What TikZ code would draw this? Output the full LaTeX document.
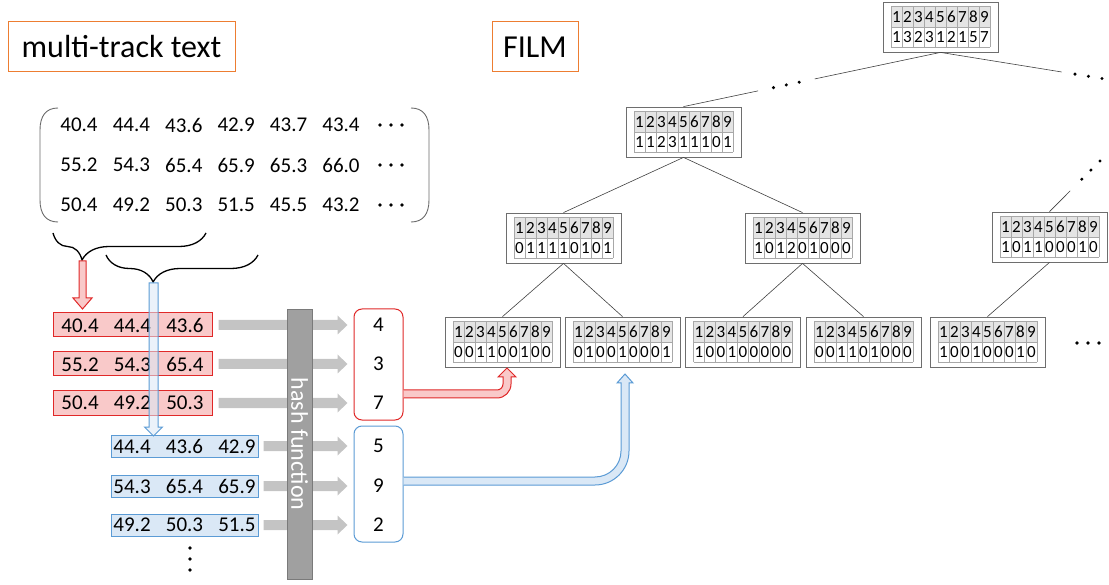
\documentclass[tikz,border=0pt]{standalone}
\usepackage{fontspec}
\setmainfont{Carlito}
\usetikzlibrary{calc,decorations.pathreplacing}
\definecolor{orangeb}{HTML}{ED7D31}
\definecolor{redl}{HTML}{E02828}
\definecolor{redf}{HTML}{F9C9C9}
\definecolor{bluel}{HTML}{5B9BD5}
\definecolor{bluef}{HTML}{DAE8F6}
\definecolor{garr}{HTML}{C4C4C4}
\definecolor{hashf}{HTML}{A0A0A0}
\definecolor{hashl}{HTML}{7A7A7A}
\definecolor{boxl}{HTML}{6E6E6E}
\definecolor{celll}{HTML}{A8A8A8}
\definecolor{cellf}{HTML}{E4E4E4}
\definecolor{treel}{HTML}{404040}
\definecolor{brk}{HTML}{6A6A6A}
\tikzset{
  title/.style={draw=orangeb, line width=1pt, inner sep=0pt, minimum height=50pt, font=\fontsize{32}{32}\selectfont},
  mnum/.style={inner sep=0pt, font=\fontsize{21}{21}\selectfont},
  redrow/.style={draw=redl, fill=redf, line width=1pt, minimum width=159pt, minimum height=24pt, inner sep=0pt, font=\fontsize{21}{21}\selectfont},
  bluerow/.style={draw=bluel, fill=bluef, line width=1pt, minimum width=147pt, minimum height=22pt, inner sep=0pt, font=\fontsize{21}{21}\selectfont},
  hashbar/.style={draw=hashl, fill=hashf, line width=0.8pt, minimum width=25pt, minimum height=270pt, inner sep=0pt},
  hashtext/.style={rotate=-90, text=white, inner sep=0pt, font=\fontsize{24}{24}\selectfont},
  redround/.style={draw=redl, line width=1pt, rounded corners=8pt, fill=white, minimum width=49pt, minimum height=111pt, inner sep=0pt},
  blueround/.style={draw=bluel, line width=1pt, rounded corners=8pt, fill=white, minimum width=49pt, minimum height=116pt, inner sep=0pt},
  hnum/.style={inner sep=0pt, font=\fontsize{21}{21}\selectfont},
  filmbox/.style={draw=boxl, line width=0.8pt, fill=white, minimum width=115pt, minimum height=50pt, inner sep=0pt},
  cellline/.style={draw=celll, line width=0.5pt},
  cellnum/.style={inner sep=0pt, font=\fontsize{17}{17}\selectfont},
  treeline/.style={draw=treel, line width=0.6pt},
  bracestyle/.style={draw=black, line width=1.3pt, decorate, decoration={brace, mirror, amplitude=27pt, aspect=#1}},
  redblock/.style={draw=redl, fill=redf, line width=1pt},
  blueblock/.style={draw=bluel, fill=bluef, line width=1pt},
}
\newcommand\filmtab[4]{%
  \node[filmbox] (#1) at (#2,#3) {};
  \fill[cellf] ($(#1.center)+(-49.5,-20.5)$) rectangle ($(#1.center)+(49.5,0)$);
  \foreach \kk in {0,...,9} \draw[cellline] ($(#1.center)+({-49.5+\kk*11},-20.5)$) -- ++(0,41);
  \foreach \yy in {-20.5,0,20.5} \draw[cellline] ($(#1.center)+(-49.5,\yy)$) -- ++(99,0);
  \foreach \dg [count=\ci] in {#4} {
    \node[cellnum] (#1-a\ci) at ($(#1.center)+({-49.5+(\ci-0.5)*11},-10.25)$) {\ci};
    \node[cellnum] (#1-b\ci) at ($(#1.center)+({-49.5+(\ci-0.5)*11},10.25)$) {\dg};
  }
}
\newcommand\garrow[2]{%
  \fill[garr] let \p1=(#1), \p2=(#2) in
    (\x1,{\y1+5pt}) -- ({\x2-10pt},{\y1+5pt}) -- ({\x2-10pt},{\y1+9.5pt}) -- (\x2,\y1)
    -- ({\x2-10pt},{\y1-9.5pt}) -- ({\x2-10pt},{\y1-5pt}) -- (\x1,{\y1-5pt}) -- cycle;
}
\newcommand\gap{\hspace{15.2pt}}
\begin{document}
\begin{tikzpicture}[x=1pt,y=-1pt]
\useasboundingbox (0,0) rectangle (1109,585);

% titles
\node[title, minimum width=227pt] (ttext) at (121.5,47) {multi-track text};
\node[title, minimum width=86pt] (tfilm) at (535,47) {FILM};

% matrix
\draw[brk, line width=0.9pt] (58,108) .. controls (46,108) and (40,116) .. (40,130) -- (40,200) .. controls (40,214) and (46,222) .. (58,222);
\draw[brk, line width=0.9pt] (411,108) .. controls (423,108) and (429,116) .. (429,130) -- (429,200) .. controls (429,214) and (423,222) .. (411,222);
\foreach \row [count=\ri] in {{40.4,44.4,43.6,42.9,43.7,43.4},{55.2,54.3,65.4,65.9,65.3,66.0},{50.4,49.2,50.3,51.5,45.5,43.2}} {
  \foreach \val [count=\cj] in \row {
    \node[mnum] (m-\ri-\cj) at ({79+(\cj-1)*52.4},{85+\ri*40}) {\val};
  }
  \foreach \xx in {380,391,402} \fill (\xx,{85+\ri*40}) circle (1.8pt);
}

% braces
\coordinate (br1a) at (53,233);
\coordinate (br1b) at (206,233);
\coordinate (br2a) at (106,255);
\coordinate (br2b) at (258,255);
\draw[bracestyle=0.19] (br1a) -- (br1b);
\draw[bracestyle=0.31] (br2a) -- (br2b);

% red rows
\node[redrow] (r1) at (132.5,325) {40.4\gap 44.4\gap 43.6};
\node[redrow] (r2) at (132.5,364) {55.2\gap 54.3\gap 65.4};
\node[redrow] (r3) at (132.5,403) {50.4\gap 49.2\gap 50.3};
\filldraw[redblock] (79,261) -- (79,298) -- (73,298) -- (82.5,309) -- (92,298) -- (86,298) -- (86,261) -- cycle;

% blue rows
\node[bluerow] (b1) at (184.5,446) {44.4\gap 43.6\gap 42.9};
\node[bluerow] (b2) at (184.5,486) {54.3\gap 65.4\gap 65.9};
\node[bluerow] (b3) at (184.5,525) {49.2\gap 50.3\gap 51.5};
\filldraw[blueblock, fill opacity=0.55] (149,283) -- (149,427) -- (144.5,427) -- (153.5,436) -- (162.5,427) -- (158,427) -- (158,283) -- cycle;
\foreach \yy in {548,559,570} \fill (190,\yy) circle (1.8pt);

% hash result boxes
\node[redround] (hr) at (378.5,364.5) {};
\node[blueround] (hbx) at (378.5,484) {};
\node[hnum] (n4) at (378.5,325) {4};
\node[hnum] (n3) at (378.5,364) {3};
\node[hnum] (n7) at (378.5,403) {7};
\node[hnum] (n5) at (378.5,446) {5};
\node[hnum] (n9) at (378.5,486) {9};
\node[hnum] (n2) at (378.5,525) {2};

% gray arrows
\garrow{$(r1.east)+(6,0)$}{$(hr.west|-r1.center)+(-6,0)$}
\garrow{$(r2.east)+(6,0)$}{$(hr.west|-r2.center)+(-6,0)$}
\garrow{$(r3.east)+(6,0)$}{$(hr.west|-r3.center)+(-6,0)$}
\garrow{$(b1.east)+(5,0)$}{$(hbx.west|-b1.center)+(-6,0)$}
\garrow{$(b2.east)+(5,0)$}{$(hbx.west|-b2.center)+(-6,0)$}
\garrow{$(b3.east)+(5,0)$}{$(hbx.west|-b3.center)+(-6,0)$}

% hash bar
\node[hashbar] (hash) at (299.5,444) {};
\node[hashtext] (hasht) at (hash.center) {hash function};

% tree
\filmtab{root}{940.5}{27}{1,3,2,3,1,2,1,5,7}
\filmtab{lv2}{683.5}{132}{1,1,2,3,1,1,1,0,1}
\filmtab{lv3a}{563.5}{238}{0,1,1,1,1,0,1,0,1}
\filmtab{lv3b}{802.5}{238}{1,0,1,2,0,1,0,0,0}
\filmtab{lv3c}{1049.5}{237}{1,0,1,1,0,0,0,1,0}
\filmtab{lf1}{502.5}{342}{0,0,1,1,0,0,1,0,0}
\filmtab{lf2}{622.5}{342}{0,1,0,0,1,0,0,0,1}
\filmtab{lf3}{743}{342}{1,0,0,1,0,0,0,0,0}
\filmtab{lf4}{863.5}{342}{0,0,1,1,0,1,0,0,0}
\filmtab{lf5}{987.5}{342}{1,0,0,1,0,0,0,1,0}

\draw[treeline] (root.south) -- ($(root.south)!0.49!(lv2.north)$);
\draw[treeline] ($(root.south)!0.71!(lv2.north)$) -- (lv2.north);
\foreach \t in {0.55,0.6,0.65} \fill ($(root.south)!\t!(lv2.north)$) circle (1.7pt);
\coordinate (rfar) at (1102,78.5);
\draw[treeline] (root.south) -- ($(root.south)!0.75!(rfar)$);
\foreach \t in {0.833,0.916,1.0} \fill ($(root.south)!\t!(rfar)$) circle (1.7pt);
\coordinate (ufar) at (1100,161);
\draw[treeline] (lv3c.north) -- ($(lv3c.north)!0.41!(ufar)$);
\foreach \t in {0.64,0.82,1.0} \fill ($(lv3c.north)!\t!(ufar)$) circle (1.7pt);
\draw[treeline] (lv2.south) -- (lv3a.north);
\draw[treeline] (lv2.south) -- (lv3b.north);
\draw[treeline] (lv3a.south) -- (lf1.north);
\draw[treeline] (lv3a.south) -- (lf2.north);
\draw[treeline] (lv3b.south) -- (lf3.north);
\draw[treeline] (lv3b.south) -- (lf4.north);
\draw[treeline] (lv3c.south) -- (lf5.north);
\foreach \xx in {1077,1088,1099} \fill (\xx,343) circle (1.8pt);

% block arrows to leaves
\filldraw[redblock] (hr.east|-397,390) -- (497,390) .. controls (500.3,390) and (503,387.3) .. (503,384) -- (503,377) -- (498,377) -- (507,368) -- (516,377) -- (511,377) -- (511,384) .. controls (511,391.7) and (504.7,398) .. (497,398) -- (hr.east|-397,398);
\filldraw[blueblock] (hbx.east|-397,477) -- (595,477) .. controls (609.4,477) and (621,465.4) .. (621,451) -- (621,383) -- (617,383) -- (625,374) -- (633,383) -- (629,383) -- (629,451) .. controls (629,469.8) and (613.8,485) .. (595,485) -- (hbx.east|-397,485);
\end{tikzpicture}
\end{document}
